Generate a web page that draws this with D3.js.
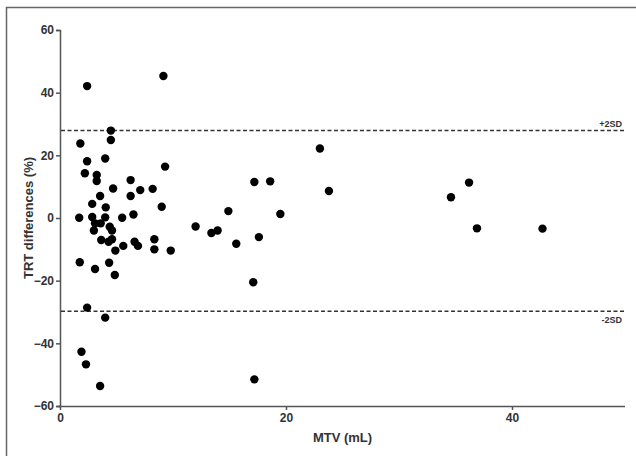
<!DOCTYPE html>
<meta charset="utf-8">
<script src="https://d3js.org/d3.v7.min.js"></script>
<style>
  body { margin: 0; background: #fff; }
  text { font-family: "Liberation Sans", Arial, sans-serif; font-weight: bold; fill: #333; }
</style>
<div id="chart"></div>
<script>
// MTV (mL) vs TRT differences (%)
var mtv = [4.5, 4.5, 1.8, 2.4, 4.0, 9.3, 2.2, 3.25, 3.25, 6.25, 4.7, 7.1, 8.2, 6.25, 3.55,
  2.85, 4.05, 9.0, 1.7, 2.85, 4.0, 5.5, 6.5, 3.1, 3.6, 4.4, 3.0, 4.6, 3.65, 4.3, 4.6, 6.6,
  6.9, 5.6, 4.9, 8.35, 8.35, 9.8, 1.75, 3.1, 4.35, 4.85, 2.4, 4.0, 1.9, 2.3, 3.55,
  2.4, 9.15, 23.0, 17.2, 18.6, 23.8, 14.9, 19.5, 12.0, 13.4, 13.95, 17.6, 15.6, 17.1, 17.2,
  36.2, 34.6, 36.9, 42.7];
var diff = [27.9, 24.9, 23.8, 18.1, 19.0, 16.4, 14.3, 13.7, 11.8, 12.1, 9.4, 8.9, 9.3, 7.0, 7.0,
  4.5, 3.4, 3.6, 0.1, 0.3, 0.2, 0.1, 1.1, -1.7, -1.7, -2.8, -4.0, -4.0, -7.0, -7.6, -6.8, -7.6,
  -8.9, -8.9, -10.4, -6.8, -10.0, -10.4, -14.1, -16.3, -14.3, -18.2, -28.6, -31.8, -42.7, -46.7, -53.6,
  42.1, 45.3, 22.2, 11.5, 11.7, 8.6, 2.2, 1.3, -2.7, -4.8, -4.0, -6.1, -8.2, -20.5, -51.5,
  11.3, 6.6, -3.3, -3.4];
var xTicks = [0, 20, 40];
var yTicks = [-60, -40, -20, 0, 20, 40, 60];
var sdLines = [{ label: "+2SD", value: 27.9 }, { label: "-2SD", value: -29.8 }];

var W = 636, H = 456;
var svg = d3.select("#chart").append("svg")
  .attr("width", W).attr("height", H);

// outer frame (only top and left edges fall inside the picture)
svg.append("path")
  .attr("d", "M6.5," + H + "V7.5H" + W)
  .attr("fill", "none").attr("stroke", "#666").attr("stroke-width", 1.5);

var x = d3.scaleLinear().domain([0, 50]).range([60, 625]);
var y = d3.scaleLinear().domain([-60, 60]).range([406, 30]);

// y axis
var yAxis = svg.append("g")
  .attr("transform", "translate(" + x(0) + ",0)")
  .call(d3.axisLeft(y).tickValues(yTicks).tickSize(4).tickPadding(2));
// x axis
var xAxis = svg.append("g")
  .attr("transform", "translate(0," + y(-60) + ")")
  .call(d3.axisBottom(x).tickValues(xTicks).tickSize(4).tickPadding(3));

[xAxis, yAxis].forEach(function(a) {
  a.select(".domain").attr("stroke", "#555").attr("stroke-width", 1.5);
  a.selectAll(".tick line").attr("stroke", "#555").attr("stroke-width", 1.5);
  a.selectAll("text")
    .style("font-family", "'Liberation Sans', Arial, sans-serif")
    .style("font-weight", "bold").style("font-size", "12px").attr("fill", "#333");
});
xAxis.select(".domain").attr("d", "M" + (x(0) - 2) + ",0.5H" + x(50));

// reference lines
svg.selectAll("line.sd")
  .data(sdLines)
  .enter().append("line")
    .attr("class", "sd")
    .attr("x1", x(0) + 1).attr("x2", x(50))
    .attr("y1", function(d) { return y(d.value); })
    .attr("y2", function(d) { return y(d.value); })
    .attr("stroke", "#333").attr("stroke-width", 1.5)
    .attr("stroke-dasharray", "4,2.5");

svg.selectAll("text.sd")
  .data(sdLines)
  .enter().append("text")
    .attr("class", "sd")
    .attr("x", x(50) - 3)
    .attr("y", function(d) { return y(d.value) + (d.value > 0 ? -4 : 12); })
    .attr("text-anchor", "end")
    .style("font-size", "9px")
    .text(function(d) { return d.label; });

// points
svg.selectAll("circle")
  .data(d3.range(mtv.length))
  .enter().append("circle")
    .attr("cx", function(i) { return x(mtv[i]); })
    .attr("cy", function(i) { return y(diff[i]); })
    .attr("r", 4.2)
    .attr("fill", "#000");

// axis titles
svg.append("text")
  .attr("x", x(25)).attr("y", 442)
  .attr("text-anchor", "middle")
  .style("font-size", "13px")
  .text("MTV (mL)");

svg.append("text")
  .attr("transform", "translate(33," + y(0) + ")rotate(-90)")
  .attr("text-anchor", "middle")
  .style("font-size", "13px")
  .text("TRT differences (%)");
</script>
